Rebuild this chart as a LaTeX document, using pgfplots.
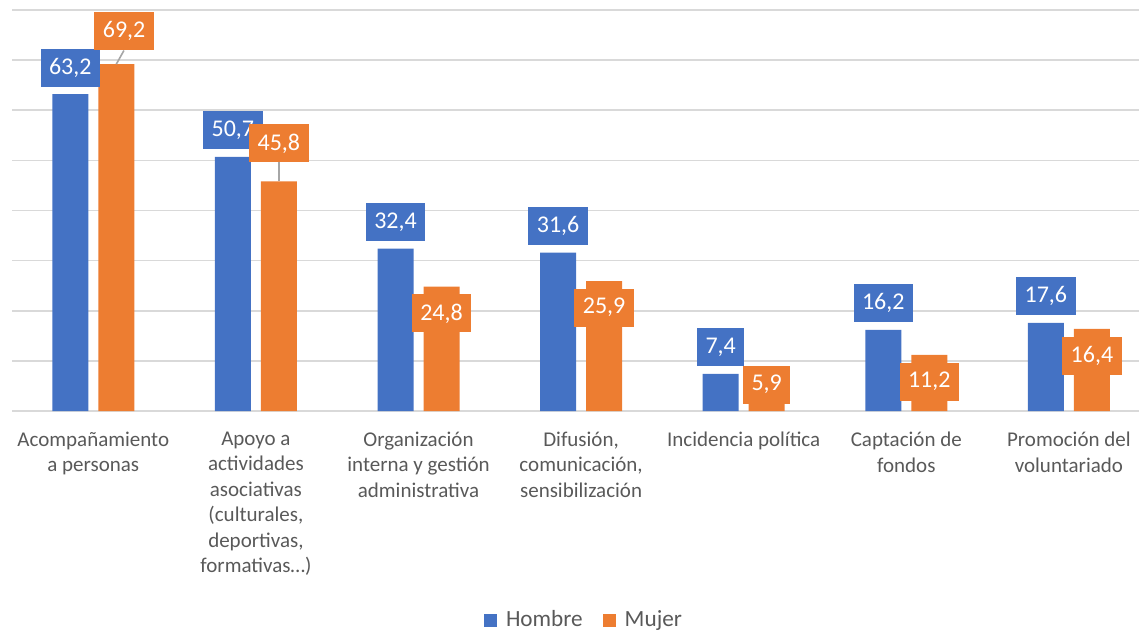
\documentclass[border=0pt]{standalone}
\usepackage{fontspec}
\setmainfont{Carlito}
\usepackage{pgfplots}
\usepackage{pgfplotstable}
\pgfplotsset{compat=1.18}
\definecolor{hblue}{HTML}{4472C4}
\definecolor{morange}{HTML}{ED7D31}
\definecolor{gridc}{HTML}{D9D9D9}
\definecolor{txt}{HTML}{595959}
\definecolor{lead}{HTML}{A6A6A6}

\pgfplotstableread{
x y lbl dx dy
0 63.2 63,2 0 13.25
1 50.7 50,7 0 13.25
2 32.4 32,4 0 13.25
3 31.6 31,6 0 13.25
4 7.4 7,4 0 13.25
5 16.2 16,2 0 13.25
6 17.6 17,6 0 13.25
}\hombre

\pgfplotstableread{
x y lbl dx dy
0 69.2 69,2 3.9 16.5
1 45.8 45,8 0 19
2 24.8 24,8 0 -13.4
3 25.9 25,9 0 -13.2
4 5.9 5,9 0 -1.6
5 11.2 11,2 0 -13.35
6 16.4 16,4 0 -13.4
}\mujer

\begin{document}
\begin{tikzpicture}
\begin{axis}[
  at={(0,0)}, anchor=south west,
  scale only axis, width=569.1pt, height=200.5pt,
  xmin=-0.5, xmax=6.5, ymin=0, ymax=80,
  ybar=5pt, bar width=18pt,
  clip=false,
  axis line style={draw=none},
  ytick={0,10,...,80}, yticklabels={},
  ymajorgrids, major grid style={gridc, line width=0.8pt},
  tick style={draw=none},
  xtick={0,...,6},
  xticklabels={
    {Acompañamiento\\a personas},
    {Apoyo a\\actividades\\asociativas\\(culturales,\\deportivas,\\formativas…)},
    {Organización\\interna y gestión\\administrativa},
    {Difusión,\\comunicación,\\sensibilización},
    {Incidencia política},
    {Captación de\\fondos},
    {Promoción del\\voluntariado}},
  xticklabel style={anchor=north, inner sep=0pt, yshift=-6pt, align=center,
    font=\fontsize{10.5}{12.75}\selectfont, text=txt},
  legend style={at={(0.5034,0)}, anchor=center, yshift=-104.5pt,
    draw=none, fill=none, legend columns=2,
    font=\fontsize{11.6}{14}\selectfont, text=txt,
    /tikz/every odd column/.append style={column sep=2.5pt},
    /tikz/every even column/.append style={column sep=8pt}},
  legend image code/.code={\fill[#1] (0pt,-3.25pt) rectangle (6.5pt,3.25pt);},
]
\addplot[fill=hblue, draw=none,
  point meta=explicit symbolic, nodes near coords,
  visualization depends on={\thisrow{dx} \as \dxv},
  visualization depends on={\thisrow{dy} \as \dyv},
  nodes near coords style={anchor=center, xshift=\dxv pt, yshift=\dyv pt,
    font=\fontsize{12}{14}\selectfont, text=white, inner xsep=4.25pt,
    inner ysep=0pt, minimum height=19pt, fill=hblue}]
  table[x=x, y=y, meta=lbl] {\hombre};
\addlegendentry{Hombre}
\addplot[fill=morange, draw=none,
  point meta=explicit symbolic, nodes near coords,
  visualization depends on={\thisrow{dx} \as \dxv},
  visualization depends on={\thisrow{dy} \as \dyv},
  nodes near coords style={anchor=center, xshift=\dxv pt, yshift=\dyv pt,
    font=\fontsize{12}{14}\selectfont, text=white, inner xsep=4.25pt,
    inner ysep=0pt, minimum height=19pt, fill=morange}]
  table[x=x, y=y, meta=lbl] {\mujer};
\addlegendentry{Mujer}
\draw[lead, line width=0.8pt] ([xshift=11.5pt]axis cs:0,69.2) -- ([xshift=15.3pt, yshift=6.8pt]axis cs:0,69.2);
\draw[lead, line width=0.8pt] ([xshift=11.5pt]axis cs:1,45.8) -- ([xshift=11.5pt, yshift=9.5pt]axis cs:1,45.8);
\end{axis}
\pgfresetboundingbox
\path[use as bounding box] (-6pt,-110pt) rectangle (563.5pt,205.5pt);
\end{tikzpicture}
\end{document}
